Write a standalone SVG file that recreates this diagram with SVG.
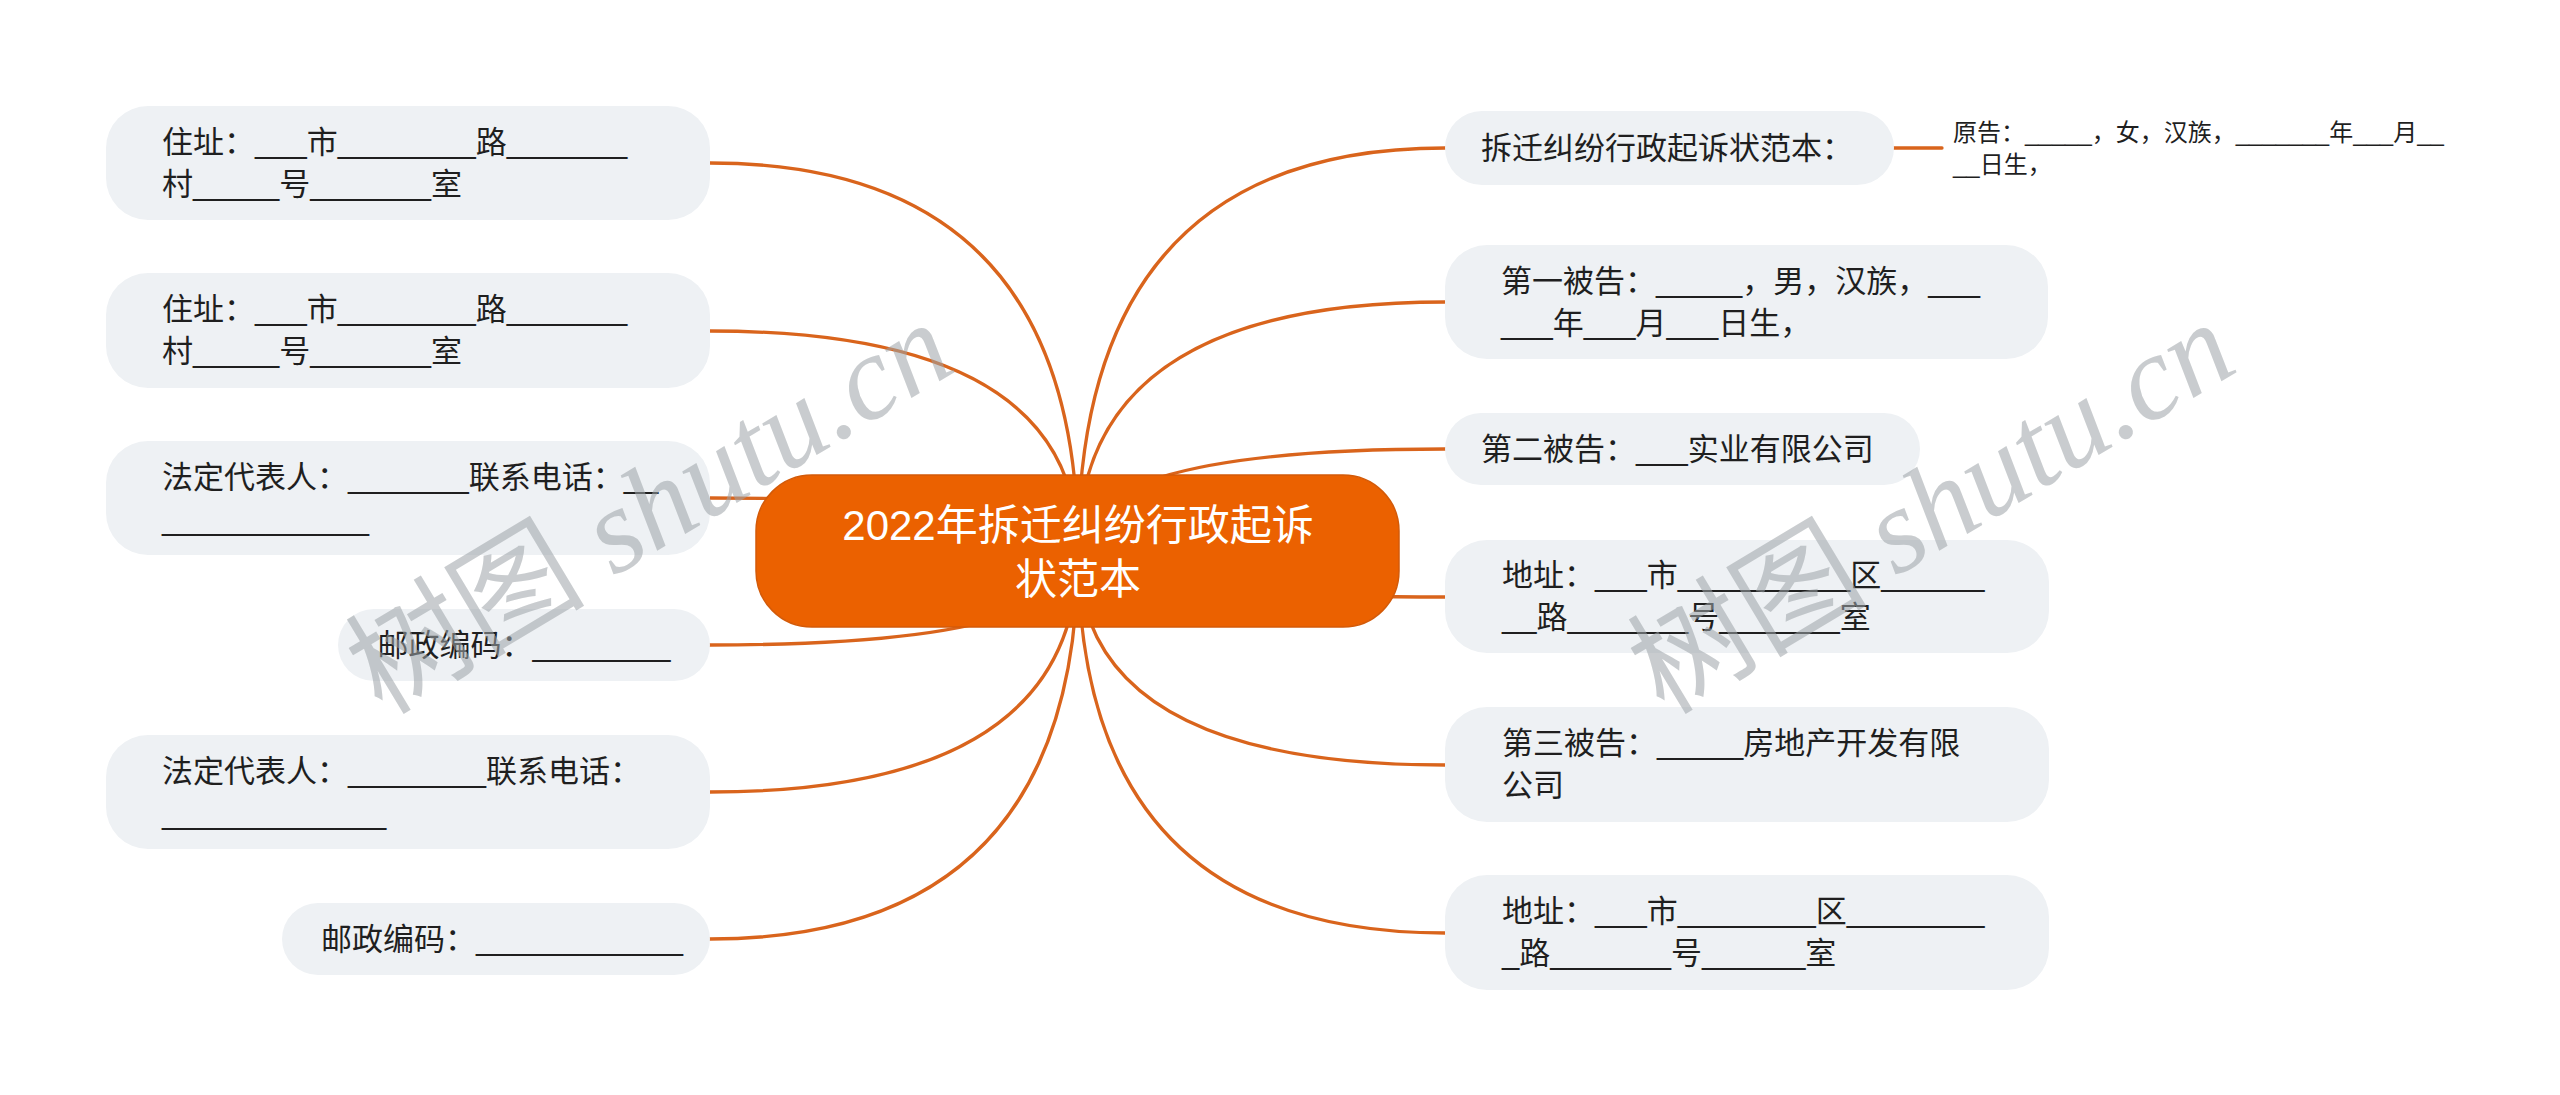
<svg xmlns="http://www.w3.org/2000/svg" width="2560" height="1095" viewBox="0 0 2560 1095">
  <style>
    .box { fill: #EEF1F4; }
    .t { font-family: "Liberation Sans", "Noto Sans CJK SC", sans-serif; font-size: 31px; fill: #1F1F1F; }
    .leaf { font-size: 24px; }
    .main { font-family: "Liberation Sans", "Noto Sans CJK SC", sans-serif; font-size: 42px; fill: #FFFFFF; text-anchor: middle; }
    .edge { fill: none; stroke: #D9641C; stroke-width: 3.3; stroke-linecap: round; }
    .wm { font-family: "Liberation Serif", "Noto Sans CJK SC", serif; font-size: 120px; fill: #9EA4A8; opacity: 0.55; }
    .wm .lat { font-style: italic; }
  </style>
  <rect width="2560" height="1095" fill="#FFFFFF"/>

  <g id="connectors">
    <path class="edge" d="M1078,551 Q1078,163 710,163"/>
    <path class="edge" d="M1078,551 Q1078,331 710,331"/>
    <path class="edge" d="M1078,551 Q1078,498 710,498"/>
    <path class="edge" d="M1078,551 Q1078,645 710,645"/>
    <path class="edge" d="M1078,551 Q1078,792 710,792"/>
    <path class="edge" d="M1078,551 Q1078,939 710,939"/>
    <path class="edge" d="M1078,551 Q1078,148 1445,148"/>
    <path class="edge" d="M1078,551 Q1078,302 1445,302"/>
    <path class="edge" d="M1078,551 Q1078,449 1445,449"/>
    <path class="edge" d="M1078,551 Q1078,597 1445,597"/>
    <path class="edge" d="M1078,551 Q1078,765 1445,765"/>
    <path class="edge" d="M1078,551 Q1078,933 1445,933"/>
    <path class="edge" d="M1894,148 H1942"/>
  </g>

  <g id="center">
    <rect x="756" y="475" width="643" height="152" rx="56" fill="#EB6100" stroke="#D35A08" stroke-width="1.5"/>
    <text class="main" x="1078" y="540">2022年拆迁纠纷行政起诉</text>
    <text class="main" x="1078" y="594">状范本</text>
  </g>

  <g id="l1">
    <rect class="box" x="106" y="106" width="604" height="114" rx="42"/>
    <text class="t" x="162" y="153">住址：___市________路_______</text>
    <text class="t" x="162" y="195">村_____号_______室</text>
  </g>
  <g id="l2">
    <rect class="box" x="106" y="273" width="604" height="115" rx="42"/>
    <text class="t" x="162" y="320">住址：___市________路_______</text>
    <text class="t" x="162" y="362">村_____号_______室</text>
  </g>
  <g id="l3">
    <rect class="box" x="106" y="441" width="604" height="114" rx="42"/>
    <text class="t" x="162" y="488">法定代表人：_______联系电话：__</text>
    <text class="t" x="162" y="530">____________</text>
  </g>
  <g id="l4">
    <rect class="box" x="338" y="609" width="372" height="72" rx="36"/>
    <text class="t" x="377.5" y="656">邮政编码：________</text>
  </g>
  <g id="l5">
    <rect class="box" x="106" y="735" width="604" height="114" rx="42"/>
    <text class="t" x="162" y="782">法定代表人：________联系电话：</text>
    <text class="t" x="162" y="824">_____________</text>
  </g>
  <g id="l6">
    <rect class="box" x="282" y="903" width="428" height="72" rx="36"/>
    <text class="t" x="321" y="950">邮政编码：____________</text>
  </g>

  <g id="r1">
    <rect class="box" x="1445" y="111" width="449" height="74" rx="37"/>
    <text class="t" x="1481" y="159">拆迁纠纷行政起诉状范本：</text>
  </g>
  <g id="r1-leaf">
    <text class="t leaf" x="1953" y="141">原告：_____，女，汉族，_______年___月__</text>
    <text class="t leaf" x="1953" y="173">__日生，</text>
  </g>
  <g id="r2">
    <rect class="box" x="1445" y="245" width="603" height="114" rx="42"/>
    <text class="t" x="1501" y="292">第一被告：_____，男，汉族，___</text>
    <text class="t" x="1501" y="334">___年___月___日生，</text>
  </g>
  <g id="r3">
    <rect class="box" x="1445" y="413" width="475" height="72" rx="36"/>
    <text class="t" x="1481" y="460">第二被告：___实业有限公司</text>
  </g>
  <g id="r4">
    <rect class="box" x="1445" y="540" width="604" height="113" rx="42"/>
    <text class="t" x="1502" y="586">地址：___市__________区______</text>
    <text class="t" x="1502" y="628">__路_______号_______室</text>
  </g>
  <g id="r5">
    <rect class="box" x="1445" y="707" width="604" height="115" rx="42"/>
    <text class="t" x="1502" y="754">第三被告：_____房地产开发有限</text>
    <text class="t" x="1502" y="796">公司</text>
  </g>
  <g id="r6">
    <rect class="box" x="1445" y="875" width="604" height="115" rx="42"/>
    <text class="t" x="1502" y="922">地址：___市________区________</text>
    <text class="t" x="1502" y="964">_路_______号______室</text>
  </g>

  <g id="watermarks">
    <text class="wm" transform="translate(382,716) rotate(-31)">树图 <tspan class="lat">shutu.cn</tspan></text>
    <text class="wm" transform="translate(1664,716) rotate(-31)">树图 <tspan class="lat">shutu.cn</tspan></text>
  </g>
</svg>
